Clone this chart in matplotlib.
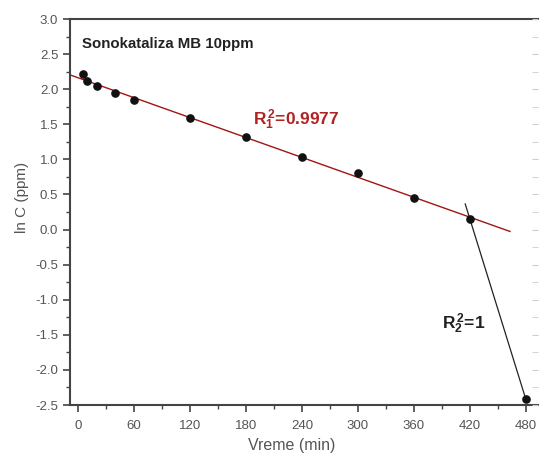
import matplotlib
matplotlib.use('Agg')
import matplotlib.pyplot as plt
import numpy as np
from matplotlib.ticker import MultipleLocator

plt.rcParams['font.family'] = ['Liberation Sans', 'DejaVu Sans']
plt.rcParams['mathtext.fontset'] = 'custom'
plt.rcParams['mathtext.rm'] = 'Liberation Sans'
plt.rcParams['mathtext.bf'] = 'Liberation Sans:bold'

# data
vreme = [5, 10, 20, 40, 60, 120, 180, 240, 300, 360, 420, 480]
lnc = [2.21, 2.12, 2.04, 1.94, 1.84, 1.59, 1.32, 1.03, 0.80, 0.45, 0.15, -2.42]
fit1_range = [-9, 463]
fit2_range = [415, 480]

fig = plt.figure(figsize=(5.39, 4.54), dpi=100)
ax = fig.add_axes([70/539, 49/454, 468/539, 386/454])

x = np.array(vreme)
y = np.array(lnc)

# first fit - all points up to 420 min
k1, n1 = np.polyfit(x[:-1], y[:-1], 1)
xf = np.array(fit1_range)
ax.plot(xf, k1*xf + n1, color='#a01515', lw=1.0, zorder=2)

# second fit - last two points
k2, n2 = np.polyfit(x[-2:], y[-2:], 1)
xf2 = np.array(fit2_range)
ax.plot(xf2, k2*xf2 + n2, color='#222222', lw=0.9, zorder=2)

ax.plot(x, y, 'o', color='#111111', ms=5.2, zorder=3, clip_on=False)

ax.set_xlim(-8.6, 493)
ax.set_ylim(-2.5, 3.0)
ax.xaxis.set_major_locator(MultipleLocator(60))
ax.xaxis.set_minor_locator(MultipleLocator(30))
ax.yaxis.set_major_locator(MultipleLocator(0.5))
ax.yaxis.set_minor_locator(MultipleLocator(0.25))
ax.yaxis.set_major_formatter(matplotlib.ticker.FormatStrFormatter('%.1f'))

ax.tick_params(which='both', direction='out', colors='#444444',
               labelcolor='#555555', labelsize=9.5, top=False, right=False)
ax.tick_params(which='major', length=5, width=1.2)
ax.tick_params(which='minor', length=3, width=1.0)
ax.tick_params(axis='x', pad=6)

for s in ['left', 'bottom', 'top']:
    ax.spines[s].set_color('#444444')
    ax.spines[s].set_linewidth(1.5)
ax.spines['right'].set_visible(False)

# faint ticks on the right side
ax2 = ax.twinx()
ax2.set_ylim(-2.5, 3.0)
ax2.yaxis.set_major_locator(MultipleLocator(0.5))
ax2.yaxis.set_minor_locator(MultipleLocator(0.25))
ax2.tick_params(which='both', direction='in', colors='#cccccc',
                labelright=False, length=4)
for s in ax2.spines.values():
    s.set_visible(False)

ax.set_xlabel('Vreme (min)', fontsize=11.5, color='#555555')
ax.set_ylabel('ln C (ppm)', fontsize=11, color='#555555')
ax.xaxis.set_label_coords((292 - 70) / 468, -(438 - 405) / 386)
ax.yaxis.set_label_coords(-(70 - 29) / 468, (405 - 197) / 386)

ax.text(4.3, 2.65, 'Sonokataliza MB 10ppm', fontsize=10.8, fontweight='bold',
        color='#222222', va='center')
ax.text(188, 1.56, r'$\mathbf{R_1^{\,2}}$=0.9977', fontsize=12.5,
        fontweight='bold', color='#b22222', va='center')
ax.text(390, -1.35, r'$\mathbf{R_2^{\,2}}$=1', fontsize=12.5,
        fontweight='bold', color='#222222', va='center')

fig.savefig('out.png', dpi=100)
